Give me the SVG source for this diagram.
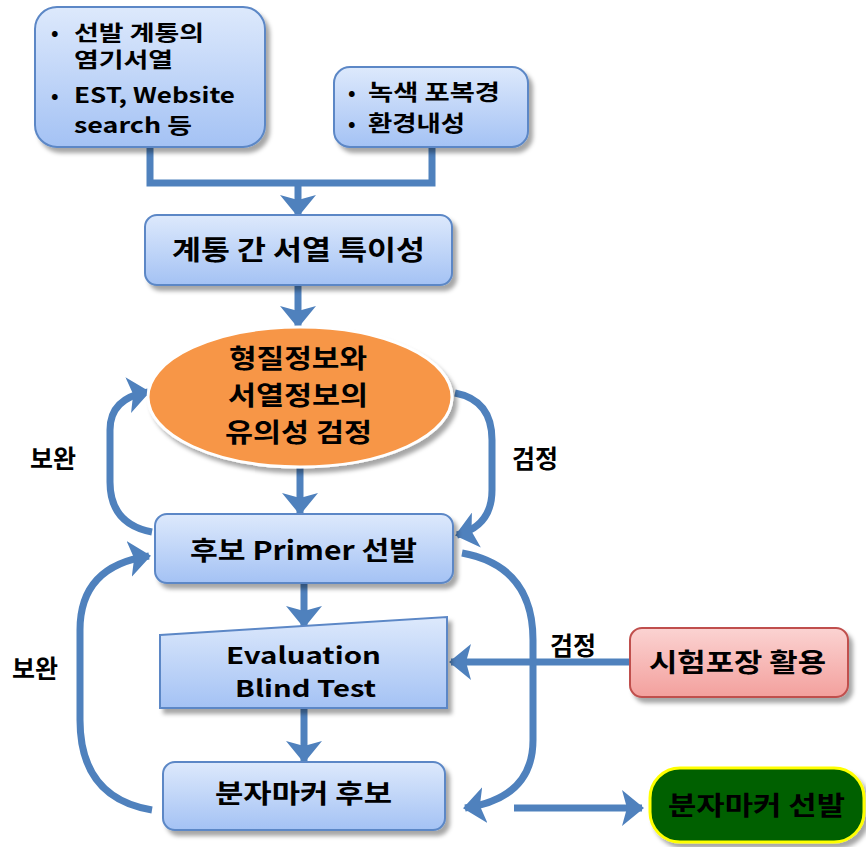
<svg xmlns="http://www.w3.org/2000/svg" width="866" height="847" viewBox="0 0 866 847">
<defs>
<linearGradient id="gBlue" x1="0" y1="0" x2="0" y2="1"><stop offset="0" stop-color="#dde9fc"/><stop offset="1" stop-color="#a4c2f4"/></linearGradient>
<linearGradient id="gRed" x1="0" y1="0" x2="0" y2="1"><stop offset="0" stop-color="#fbd3d2"/><stop offset="1" stop-color="#f3a09d"/></linearGradient>
<filter id="sh" x="-10%" y="-10%" width="130%" height="140%"><feDropShadow dx="4" dy="5" stdDeviation="2" flood-color="#000" flood-opacity="0.35"/></filter>
<marker id="ah" viewBox="0 0 22 36" refX="20" refY="18" markerWidth="22" markerHeight="36" markerUnits="userSpaceOnUse" orient="auto"><path d="M0,0 L22,18 L0,36 L5,18 Z" fill="#4f81bd"/></marker>
<style>
.box{fill:url(#gBlue);stroke:#5b87c6;stroke-width:2}
.t{font-family:"Noto Sans CJK KR","Noto Sans",sans-serif;font-weight:bold;fill:#000}
.c{fill:none;stroke:#4f81bd;stroke-width:7}
.ca{fill:none;stroke:#4f81bd;stroke-width:7;marker-end:url(#ah)}
</style>
</defs>
<rect width="866" height="847" fill="#fff"/>
<g id="connectors">
<path class="c" d="M150,147 V183 H432 V147"/>
<path class="ca" d="M298,183 V215"/>
<path class="ca" d="M298,285 V326"/>
<path class="ca" d="M300,467 V513"/>
<path class="ca" d="M152,532 Q110,524 110,482 L110,430 Q110,398 148,392"/>
<path class="ca" d="M455,393 Q492,400 492,440 L492,490 Q492,526 457,535"/>
<path class="ca" d="M152,810 Q80,798 80,720 L80,630 Q80,566 149,556"/>
<path class="ca" d="M462,553 Q533,566 533,640 L533,740 Q533,798 465,808"/>
<path class="ca" d="M304,583 V626"/>
<path class="ca" d="M304,708 V761"/>
<path class="ca" d="M630,662 H451"/>
<path class="ca" d="M514,808 H642"/>
</g>
<g id="n1"><rect class="box" x="35" y="7" width="230" height="140" rx="22" filter="url(#sh)"/>
<text class="t" x="51" y="40" font-size="20">•</text><text class="t" x="74" y="40" font-size="21" textLength="130" lengthAdjust="spacingAndGlyphs">선발 계통의</text>
<text class="t" x="74" y="67" font-size="21" textLength="99" lengthAdjust="spacingAndGlyphs">염기서열</text>
<text class="t" x="51" y="103" font-size="20">•</text><text class="t" x="74" y="103" font-size="21" textLength="161" lengthAdjust="spacingAndGlyphs">EST, Website</text>
<text class="t" x="74" y="133" font-size="21" textLength="118" lengthAdjust="spacingAndGlyphs">search 등</text></g>
<g id="n2"><rect class="box" x="334" y="67" width="194" height="80" rx="16" filter="url(#sh)"/>
<text class="t" x="348" y="100" font-size="20">•</text><text class="t" x="368" y="100" font-size="22" textLength="132" lengthAdjust="spacingAndGlyphs">녹색 포복경</text>
<text class="t" x="348" y="131" font-size="20">•</text><text class="t" x="368" y="131" font-size="22" textLength="97" lengthAdjust="spacingAndGlyphs">환경내성</text></g>
<g id="n3"><rect class="box" x="145" y="215" width="307" height="70" rx="12" filter="url(#sh)"/>
<text class="t" x="172" y="260" font-size="27" textLength="253" lengthAdjust="spacingAndGlyphs">계통 간 서열 특이성</text></g>
<g id="n4"><ellipse cx="300" cy="397" rx="152" ry="70" fill="#f79646" stroke="#fff" stroke-width="3" filter="url(#sh)"/>
<text class="t" x="229" y="368" font-size="26" textLength="138" lengthAdjust="spacingAndGlyphs">형질정보와</text>
<text class="t" x="228" y="405" font-size="26" textLength="140" lengthAdjust="spacingAndGlyphs">서열정보의</text>
<text class="t" x="225" y="442" font-size="26" textLength="147" lengthAdjust="spacingAndGlyphs">유의성 검정</text></g>
<g id="n5"><rect class="box" x="155" y="514" width="298" height="69" rx="12" filter="url(#sh)"/>
<text class="t" x="190" y="560" font-size="26" textLength="227" lengthAdjust="spacingAndGlyphs">후보 Primer 선발</text></g>
<g id="n6"><polygon class="box" points="160,635 447,617 447,708 160,708" filter="url(#sh)"/>
<text class="t" x="226" y="664" font-size="23" textLength="155" lengthAdjust="spacingAndGlyphs">Evaluation</text>
<text class="t" x="235" y="697" font-size="23" textLength="141" lengthAdjust="spacingAndGlyphs">Blind Test</text></g>
<g id="n7"><rect class="box" x="163" y="762" width="282" height="68" rx="12" filter="url(#sh)"/>
<text class="t" x="215" y="803" font-size="26" textLength="177" lengthAdjust="spacingAndGlyphs">분자마커 후보</text></g>
<g id="n8"><rect x="630" y="628" width="218" height="69" rx="12" fill="url(#gRed)" stroke="#c0504d" stroke-width="2" filter="url(#sh)"/>
<text class="t" x="649" y="672" font-size="26" textLength="177" lengthAdjust="spacingAndGlyphs">시험포장 활용</text></g>
<g id="n9"><rect x="650" y="768" width="214" height="74" rx="30" fill="#006100" stroke="#ffff00" stroke-width="3" filter="url(#sh)"/>
<text class="t" x="668" y="815" font-size="26" textLength="177" lengthAdjust="spacingAndGlyphs">분자마커 선발</text></g>
<g id="labels">
<text class="t" x="30" y="468" font-size="25">보완</text>
<text class="t" x="512" y="468" font-size="25">검정</text>
<text class="t" x="12" y="678" font-size="25">보완</text>
<text class="t" x="550" y="655" font-size="25">검정</text>
</g>
</svg>
